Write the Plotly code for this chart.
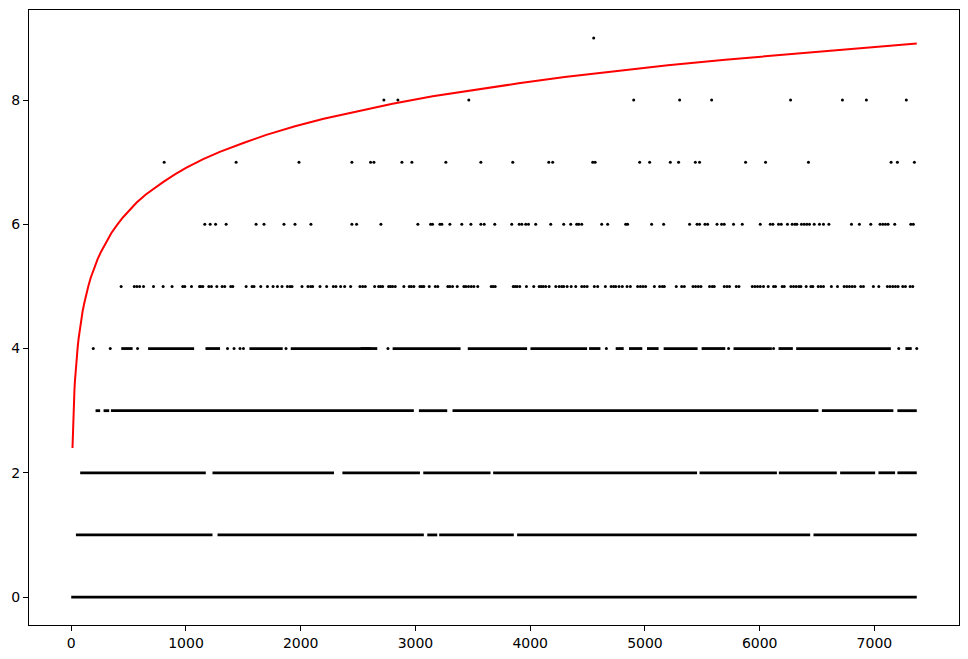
import plotly.graph_objects as go

# ---- data ----
# isolated points per level (x positions)
LEVEL9_X = [4553]
LEVEL8_X = [2725, 2847, 3465, 4902, 5302, 5581, 6269, 6721, 6930, 7278]
LEVEL7_X = [810, 1437, 1985, 2446, 2609, 2638, 2882, 2969, 3265, 3570, 3848, 4162, 4196,
            4545, 4566, 4954, 5041, 5221, 5293, 5439, 5476, 5877, 6051, 6425, 7145, 7200, 7348]
LEVEL6_X = [1164, 1211, 1258, 1350, 1611, 1680, 1854, 1950, 2089, 2446, 2487,
            2699, 3021, 3132, 3149, 3213, 3230, 3300, 3404, 3483, 3570, 3599, 3691, 3839,
            3904, 3927, 3961, 3985, 4048, 4179, 4292, 4353, 4405, 4423, 4449, 4623, 4675,
            4832, 4849, 5058, 5163, 5389, 5454, 5476, 5523, 5546, 5628, 5668, 5691, 5772,
            5848, 6005, 6092, 6115, 6164, 6188, 6242, 6283, 6307, 6324, 6364, 6388, 6411,
            6434, 6475, 6521, 6556, 6603, 6800, 6869, 6968, 7049, 7073, 7096, 7119, 7177,
            7317, 7339]
LEVEL5_X = [435, 549, 572, 596, 630, 717, 801, 879, 972, 990, 1048, 1118, 1129, 1147, 1199,
            1222, 1269, 1315, 1338, 1390, 1408, 1524, 1576, 1593, 1652, 1710, 1759, 1797,
            1837, 1884, 1907, 1924, 2011, 2063, 2087, 2104, 2168, 2226, 2284, 2307, 2348,
            2383, 2435, 2516, 2540, 2563, 2644, 2679, 2696, 2714, 2766, 2783, 2801, 2824,
            2899, 2946, 2964, 2986, 3039, 3056, 3073, 3120, 3173, 3195, 3282, 3300, 3323,
            3364, 3422, 3439, 3462, 3486, 3509, 3543, 3660, 3677, 3695, 3852, 3869, 3886,
            3909, 3967, 4031, 4078, 4095, 4113, 4135, 4165, 4223, 4252, 4275, 4292, 4322,
            4357, 4397, 4449, 4472, 4496, 4559, 4588, 4655, 4705, 4727, 4745, 4774, 4803,
            4844, 4873, 4936, 4960, 4983, 5006, 5082, 5128, 5152, 5169, 5273, 5320, 5343,
            5419, 5441, 5465, 5488, 5563, 5587, 5604, 5691, 5715, 5737, 5796, 5819, 5935,
            5958, 5981, 6005, 6033, 6074, 6121, 6138, 6196, 6214, 6272, 6295, 6318, 6342,
            6359, 6405, 6446, 6463, 6510, 6533, 6556, 6625, 6678, 6736, 6759, 6782, 6806,
            6829, 6881, 6904, 6991, 7038, 7113, 7136, 7160, 7183, 7206, 7247, 7270, 7311,
            7334]
LEVEL4_X = [192, 340, 578, 1362, 1419, 1471, 1501, 1872, 2760, 4664, 5729, 6121, 7212, 7369]

# dense runs per level: (start, end) x-ranges that are filled with points
LEVEL4_RUNS = [(436, 535), (670, 1071), (1170, 1297), (1553, 1843), (1913, 2609),
               (2522, 2667), (2801, 3393), (3456, 3973), (4002, 4496), (4513, 4612),
               (4745, 4815), (4861, 4977), (5018, 5119), (5163, 5459), (5494, 5700),
               (5772, 6106), (6164, 6289), (6318, 7143), (7270, 7325)]
LEVEL3_RUNS = [(212, 252), (282, 331), (346, 2986), (3030, 3277), (3323, 6512),
               (6542, 7165), (7200, 7369)]
LEVEL2_RUNS = [(78, 1173), (1231, 2290), (2316, 2316), (2363, 3039), (3068, 3654),
               (3677, 5454), (5476, 6150), (6167, 6672), (6701, 7006), (7035, 7180),
               (7200, 7369)]
LEVEL1_RUNS = [(41, 1231), (1275, 3073), (3103, 3190), (3207, 3857), (3886, 6440),
               (6469, 7369)]
LEVEL0_RUNS = [(0, 7369)]

# red curve samples
CURVE_X = [11, 11.5, 12, 13, 14, 15, 17, 19, 22, 25, 28, 32, 36, 40, 45, 50, 57, 65, 75, 85,
           100, 115, 130, 150, 170, 200, 230, 260, 300, 350, 400, 450, 500, 570, 650, 730,
           800, 900, 1000, 1150, 1300, 1500, 1700, 1950, 2200, 2500, 2800, 3150, 3500, 3900,
           4300, 4750, 5200, 5700, 6200, 6750, 7369]
CURVE_Y = [2.40, 2.44, 2.48, 2.56, 2.64, 2.71, 2.83, 2.94, 3.09, 3.22, 3.33, 3.47, 3.58,
           3.69, 3.81, 3.91, 4.04, 4.17, 4.32, 4.44, 4.61, 4.74, 4.87, 5.01, 5.14, 5.30,
           5.44, 5.56, 5.70, 5.86, 5.99, 6.11, 6.21, 6.35, 6.48, 6.59, 6.68, 6.80, 6.91,
           7.05, 7.17, 7.31, 7.44, 7.58, 7.70, 7.82, 7.94, 8.06, 8.16, 8.27, 8.37, 8.47,
           8.56, 8.65, 8.73, 8.82, 8.91]

X_TICKS = [0, 1000, 2000, 3000, 4000, 5000, 6000, 7000]
Y_TICKS = [0, 2, 4, 6, 8]

fig = go.Figure()

runs = {0: LEVEL0_RUNS, 1: LEVEL1_RUNS, 2: LEVEL2_RUNS, 3: LEVEL3_RUNS, 4: LEVEL4_RUNS}
for lvl, rl in runs.items():
    xs, ys = [], []
    for a, b in rl:
        xs += [a, b, None]
        ys += [lvl, lvl, None]
    fig.add_trace(go.Scatter(x=xs, y=ys, mode="lines",
                             line=dict(color="black", width=2.8), hoverinfo="skip",
                             showlegend=False))

points = {4: LEVEL4_X, 5: LEVEL5_X, 6: LEVEL6_X, 7: LEVEL7_X, 8: LEVEL8_X, 9: LEVEL9_X}
for lvl, px in points.items():
    fig.add_trace(go.Scatter(x=px, y=[lvl] * len(px), mode="markers",
                             marker=dict(color="black", size=3, line=dict(width=0)),
                             showlegend=False))

fig.add_trace(go.Scatter(x=CURVE_X, y=CURVE_Y, mode="lines",
                         line=dict(color="#ff0000", width=2), showlegend=False))

axis_common = dict(showline=True, linecolor="black", linewidth=1, mirror=True,
                   ticks="outside", ticklen=5, tickwidth=1, tickcolor="black",
                   showgrid=False, zeroline=False, automargin=False,
                   tickfont=dict(family="DejaVu Sans", size=14, color="black"))

# the page body adds an 8px offset, so the figure is 8px smaller and margins shifted
fig.update_layout(
    width=960, height=651,
    margin=dict(l=21, r=9, t=2, b=34),
    paper_bgcolor="white", plot_bgcolor="white",
    xaxis=dict(range=[-368, 7737], tickvals=X_TICKS, **axis_common),
    yaxis=dict(range=[-0.45, 9.45], tickvals=Y_TICKS, **axis_common),
    showlegend=False,
)

fig.write_html("out.html")
